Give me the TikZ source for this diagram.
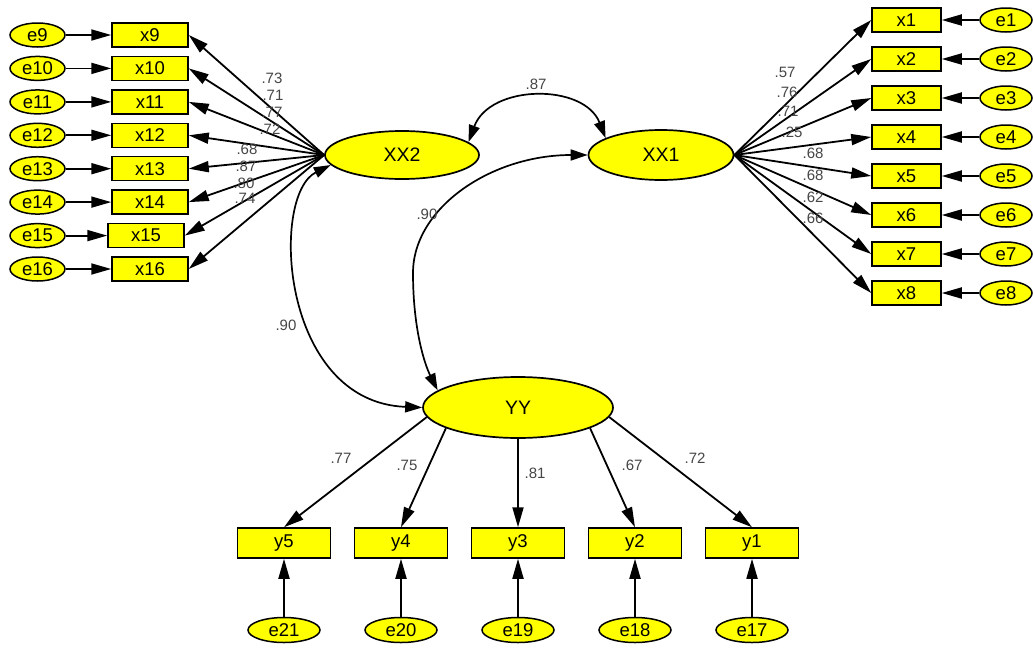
\documentclass[tikz,border=0pt]{standalone}
\usepackage{fontspec}
\setmainfont{Liberation Sans}
\usetikzlibrary{shapes.geometric,arrows.meta}
\definecolor{semyellow}{RGB}{255,255,0}
\definecolor{lblgray}{RGB}{70,70,70}
\begin{document}
\begin{tikzpicture}[x=1pt,y=-1pt,
  obs/.style={draw=black, line width=1.5pt, fill=semyellow, minimum height=24pt, inner sep=0pt, font=\fontsize{18.5}{20}\selectfont},
  obsL/.style={obs, minimum width=76pt},
  obsR/.style={obs, minimum width=69pt},
  obsY/.style={obs, minimum width=93pt, minimum height=30pt},
  err/.style={ellipse, draw=black, line width=1.5pt, fill=semyellow, minimum height=24pt, inner sep=0pt, font=\fontsize{18.5}{20}\selectfont},
  errL/.style={err, minimum width=55pt},
  errR/.style={err, minimum width=52pt},
  errY/.style={err, minimum width=72pt, minimum height=25pt},
  lat/.style={ellipse, draw=black, line width=1.7pt, fill=semyellow, inner sep=0pt, font=\fontsize{19.5}{21}\selectfont},
  lbl/.style={text=lblgray, font=\fontsize{15}{16}\selectfont, inner sep=0pt},
  arr/.style={line width=1.8pt, -{Triangle[length=20pt,width=11pt]}},
  cov/.style={line width=1.7pt, {Triangle[length=17pt,width=11pt]}-{Triangle[length=17pt,width=11pt]}}
]
\useasboundingbox (0,0) rectangle (1033,648);
\fill[white] (0,0) rectangle (1033,648);

% latent variables
\node[lat, minimum width=154pt, minimum height=48pt] (XX2) at (402,155) {XX2};
\node[lat, minimum width=145pt, minimum height=50pt] (XX1) at (661,155) {XX1};
\node[lat, minimum width=190pt, minimum height=61pt] (YY) at (518,407.5) {YY};

% left indicators
\foreach \n/\y in {9/35,10/68.4,11/101.9,12/135.3,13/168.7,14/202.1,16/269}{
  \node[obsL] (x\n) at (150,\y) {x\n};
  \node[errL] (e\n) at (37.5,\y) {e\n};
}
\node[obsL] (x15) at (146,235.6) {x15};
\node[errL] (e15) at (37.5,235.6) {e15};

% right indicators
\foreach \n/\y in {1/20,2/59,3/98,4/137,5/176,6/215,7/254,8/293}{
  \node[obsR] (x\n) at (906.5,\y) {x\n};
  \node[errR] (e\n) at (1006,\y) {e\n};
}

% bottom indicators
\foreach \n/\e/\x in {5/21/284,4/20/401,3/19/518,2/18/635,1/17/752}{
  \node[obsY] (y\n) at (\x,543) {y\n};
  \node[errY] (e\e) at (\x,630) {e\e};
}

% loadings
\foreach \n in {9,...,16}{
  \draw[arr] (XX2.west) -- (x\n.east);
  \draw[arr] (e\n.east) -- (x\n.west);
}
\foreach \n in {1,...,8}{
  \draw[arr] (XX1.east) -- (x\n.west);
  \draw[arr] (e\n.west) -- (x\n.east);
}
\draw[arr] (YY.186) -- (y5.north);
\draw[arr] (YY.196) -- (y4.north);
\draw[arr] (YY.south) -- (y3.north);
\draw[arr] (YY.-16) -- (y2.north);
\draw[arr] (YY.-6) -- (y1.north);
\foreach \n/\e in {5/21,4/20,3/19,2/18,1/17}{
  \draw[arr] (e\e.north) -- (y\n.south);
}

% covariances
\draw[cov] (XX2.11) .. controls (490,84) and (584,83) .. (XX1.163);
\coordinate (m1) at (413,273);
\draw[cov] (XX1.west) .. controls (491,155) and (413,208) .. (m1) .. controls (413,330) and (425,365) .. (YY.168);
\draw[cov] (XX2.188) .. controls (270,195) and (280,402) .. (YY.west);

% labels
\node[lbl] (c1) at (536,84) {.87};
\node[lbl] (c2) at (427,214) {.90};
\node[lbl] (c3) at (286,325) {.90};

\node[lbl] (l9) at (272,78) {.73};
\node[lbl] (l10) at (273,95) {.71};
\node[lbl] (l11) at (272,112) {.77};
\node[lbl] (l12) at (270,129) {.72};
\node[lbl] (l13) at (247,149) {.68};
\node[lbl] (l14) at (246,166) {.87};
\node[lbl] (l15) at (244,183) {.80};
\node[lbl] (l16) at (245,198) {.74};

\node[lbl] (r1) at (785,72) {.57};
\node[lbl] (r2) at (787,92) {.76};
\node[lbl] (r3) at (788,111) {.71};
\node[lbl] (r4) at (792,132) {.25};
\node[lbl] (r5) at (813,153) {.68};
\node[lbl] (r6) at (813,175) {.68};
\node[lbl] (r7) at (813,197) {.62};
\node[lbl] (r8) at (813,218) {.66};

\node[lbl] (b5) at (341,458) {.77};
\node[lbl] (b4) at (407,465) {.75};
\node[lbl] (b3) at (535,473) {.81};
\node[lbl] (b2) at (632,465) {.67};
\node[lbl] (b1) at (695,458) {.72};
\end{tikzpicture}
\end{document}
